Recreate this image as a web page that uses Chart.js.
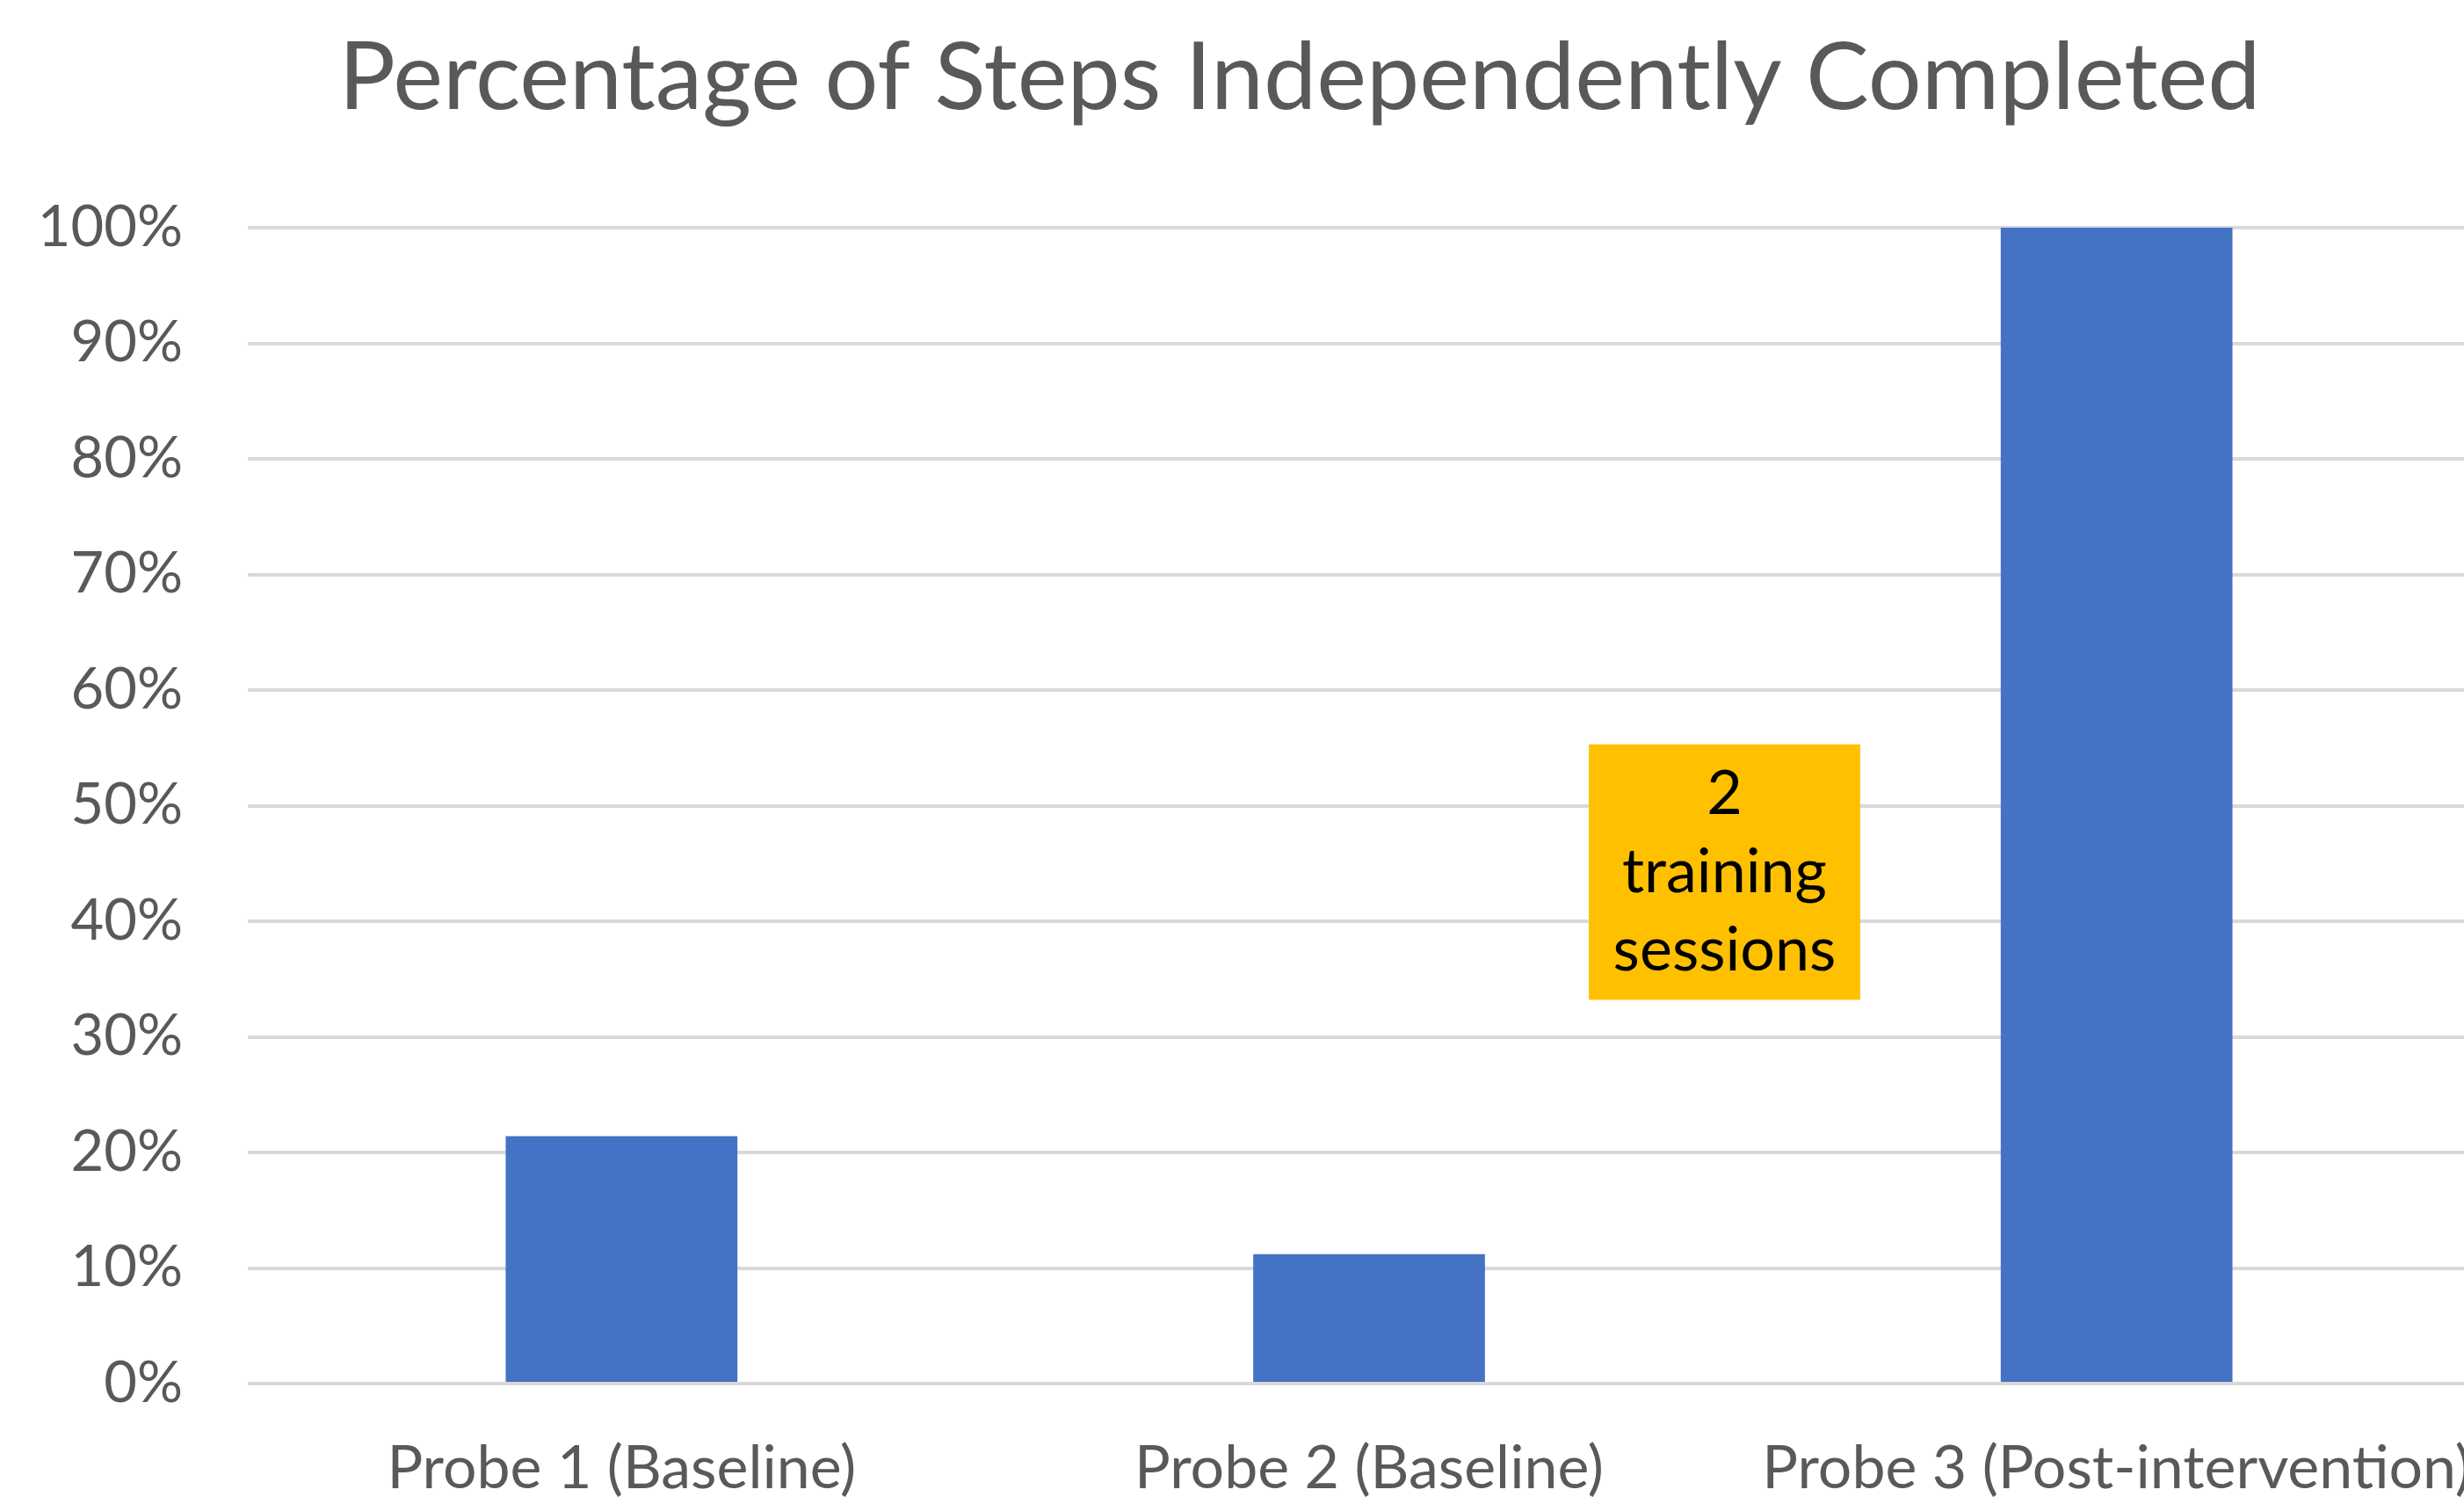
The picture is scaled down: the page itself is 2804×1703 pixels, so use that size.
<!DOCTYPE html>
<html>
<head>
<meta charset="utf-8">
<script src="https://cdn.jsdelivr.net/npm/chart.js@4.4.1/dist/chart.umd.min.js"></script>
<style>
  html, body { margin: 0; padding: 0; background: #ffffff; overflow: hidden; }
  #wrap { width: 2868px; height: 1703px; }
</style>
</head>
<body>
<div id="wrap"><canvas id="c" width="2868" height="1703"></canvas></div>
<script>
// ---- data ----
const chartTitle = 'Percentage of Steps Independently Completed';
const categories = ['Probe 1 (Baseline)', 'Probe 2 (Baseline)', 'Probe 3 (Post-intervention)'];
const percentCompleted = [21.4, 11.2, 100];
const yTickValues = [0, 10, 20, 30, 40, 50, 60, 70, 80, 90, 100];
const annotationLines = ['2', 'training', 'sessions'];

const FONT = 'Lato, "Open Sans", "DejaVu Sans", sans-serif';
const GREY = '#595959';

const titlePlugin = {
  id: 'customTitle',
  afterDraw(chart, args, opts) {
    const ctx = chart.ctx;
    ctx.save();
    ctx.font = opts.size + 'px ' + FONT;
    ctx.fillStyle = GREY;
    ctx.textAlign = 'center';
    ctx.textBaseline = 'alphabetic';
    ctx.fillText(chartTitle, opts.x, opts.baseline);
    ctx.restore();
  }
};

const noteBoxPlugin = {
  id: 'noteBox',
  afterDatasetsDraw(chart, args, opts) {
    const xs = chart.scales.x, ys = chart.scales.y;
    const left = xs.getPixelForValue(opts.xFrom);
    const right = xs.getPixelForValue(opts.xTo);
    const top = ys.getPixelForValue(opts.yTop);
    const bottom = ys.getPixelForValue(opts.yBottom);
    const ctx = chart.ctx;
    ctx.save();
    ctx.fillStyle = opts.fill;
    ctx.fillRect(left, top, right - left, bottom - top);
    ctx.fillStyle = '#000000';
    ctx.font = opts.size + 'px ' + FONT;
    ctx.textAlign = 'center';
    ctx.textBaseline = 'middle';
    const cx = (left + right) / 2, cy = (top + bottom) / 2;
    const n = annotationLines.length;
    annotationLines.forEach((t, i) => {
      ctx.fillText(t, cx, cy + (i - (n - 1) / 2) * opts.lineHeight);
    });
    ctx.restore();
  }
};

new Chart(document.getElementById('c'), {
  type: 'bar',
  data: {
    labels: categories,
    datasets: [{
      data: percentCompleted,
      backgroundColor: '#4472C4',
      borderWidth: 0,
      barPercentage: 0.31,
      categoryPercentage: 1.0
    }]
  },
  options: {
    responsive: false,
    animation: false,
    layout: { padding: { top: 259, left: 0, right: 0, bottom: 0 } },
    plugins: {
      legend: { display: false },
      title: { display: false },
      tooltip: { enabled: false },
      customTitle: { x: 1479, baseline: 124, size: 107.5 },
      noteBox: { xFrom: 1.294, xTo: 1.657, yTop: 55.3, yBottom: 33.2, fill: '#FFC000', size: 70, lineHeight: 89 }
    },
    scales: {
      x: {
        grid: { display: false, drawTicks: false },
        border: { display: false },
        ticks: { color: GREY, font: { family: FONT, size: 68 }, padding: 56, maxRotation: 0, autoSkip: false },
        afterFit(scale) { scale.height = 129; }
      },
      y: {
        min: 0, max: 100,
        afterBuildTicks(scale) { scale.ticks = yTickValues.map(v => ({ value: v })); },
        grid: { color: '#D9D9D9', lineWidth: 4, drawTicks: false },
        border: { display: false },
        ticks: { color: GREY, font: { family: FONT, size: 65 }, padding: 74, callback: v => v + '%' },
        afterFit(scale) { scale.width = 282; }
      }
    }
  },
  plugins: [titlePlugin, noteBoxPlugin]
});
</script>
</body>
</html>
